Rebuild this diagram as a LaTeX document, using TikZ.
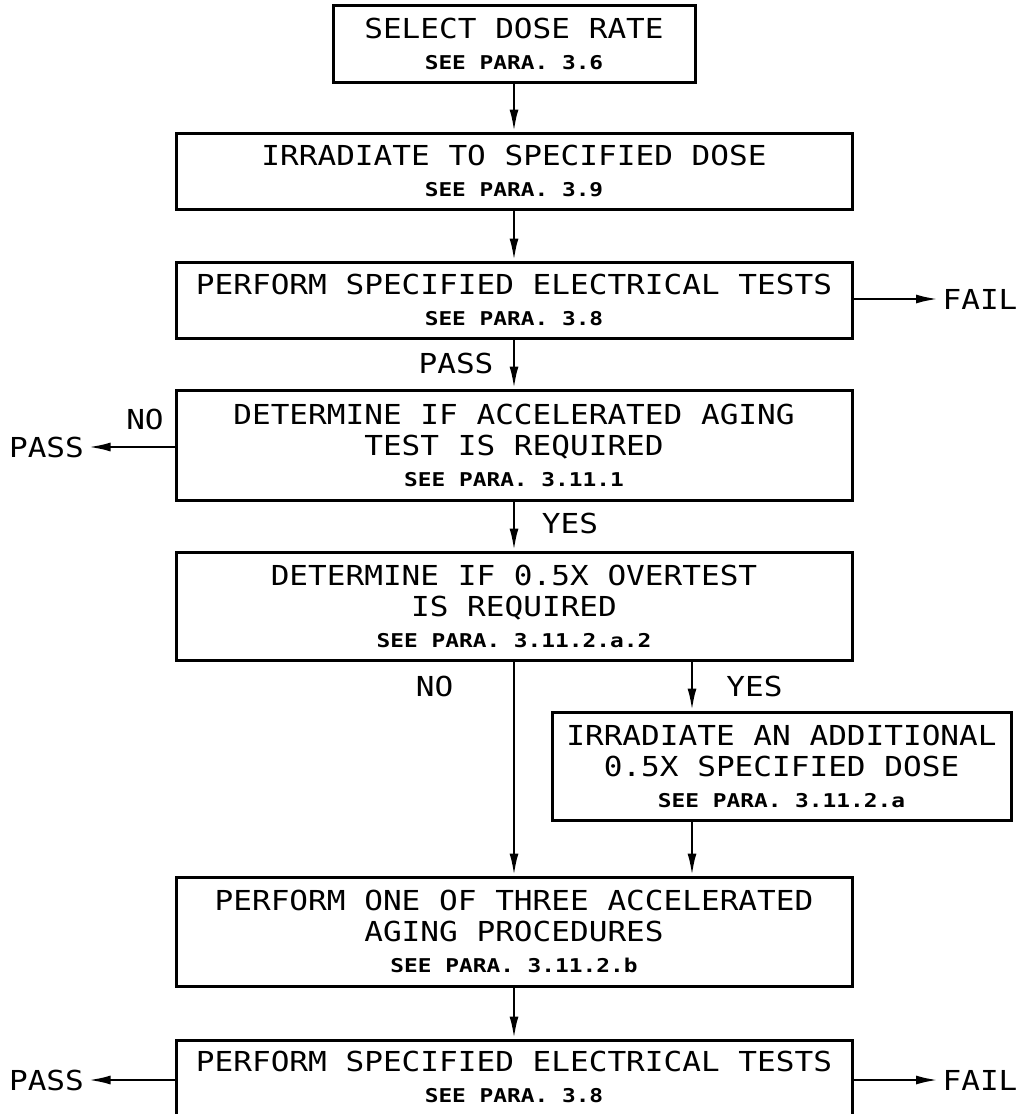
\documentclass[tikz,border=0pt]{standalone}
\usepackage{fontspec}
\usepackage{tikz}
\usetikzlibrary{arrows.meta}
\newfontfamily\cadfont{DejaVu Sans Mono}[FakeStretch=1.13]
\newfontfamily\cadsmall{DejaVu Sans Mono}[FakeStretch=1.2]
\newcommand{\seepara}[1]{{\cadsmall\bfseries\fontsize{19}{31}\selectfont SEE PARA. #1}}

\begin{document}
\begin{tikzpicture}[x=1pt, y=-1pt, line width=2.5pt,
	every node/.style={font=\cadfont\fontsize{27.5}{31}\selectfont},
	box/.style={draw, line width=3pt, align=center, inner sep=0pt, minimum width=676pt},
	arr/.style={-{Latex[length=22pt,width=9pt]}}]
	\clip (0,0) rectangle (1021,1114);
	\node[box, minimum width=362pt, minimum height=77pt] (n1) at (514,43.5)  {SELECT DOSE RATE\\\seepara{3.6}};
	\node[box, minimum height=76pt]  (n2) at (514,171)   {IRRADIATE TO SPECIFIED DOSE\\\seepara{3.9}};
	\node[box, minimum height=76pt]  (n3) at (514,300)   {PERFORM SPECIFIED ELECTRICAL TESTS\\\seepara{3.8}};
	\node[box, minimum height=110pt] (n4) at (514,445)   {DETERMINE IF ACCELERATED AGING\\TEST IS REQUIRED\\\seepara{3.11.1}};
	\node[box, minimum height=108pt] (n5) at (514,606)   {DETERMINE IF 0.5X OVERTEST\\IS REQUIRED\\\seepara{3.11.2.a.2}};
	\node[box, minimum width=459pt, minimum height=108pt] (n6) at (781.5,766) {IRRADIATE AN ADDITIONAL\\0.5X SPECIFIED DOSE\\\seepara{3.11.2.a}};
	\node[box, minimum height=109pt] (n7) at (514,931.5) {PERFORM ONE OF THREE ACCELERATED\\AGING PROCEDURES\\\seepara{3.11.2.b}};
	\node[box, minimum height=110pt] (n8) at (514,1095)  {PERFORM SPECIFIED ELECTRICAL TESTS\\\seepara{3.8}\\[-4pt]\strut};
	% branch labels
	\node (t1) at (456,363)   {PASS};
	\node (t2) at (980,299)   {FAIL};
	\node (t3) at (145,419)   {NO};
	\node (t4) at (46.5,447)  {PASS};
	\node (t5) at (570,523)   {YES};
	\node (t6) at (434.5,686) {NO};
	\node (t7) at (754.5,686) {YES};
	\node (t8) at (46.5,1080) {PASS};
	\node (t9) at (980,1080)  {FAIL};
	\coordinate (c1) at (692,0);
	\foreach \from/\to in {
		n1/n2, n2/n3,
		n3/n4, n4/n5,
		n5/n7, n7/n8}
	\draw[arr] (\from) -- (\to);
	\draw[arr] (n5.south -| c1) -- (n6.north -| c1);
	\draw[arr] (n6.south -| c1) -- (n7.north -| c1);
	\draw[arr] (n3.east |- t2) -- (t2.west);
	\draw[arr] (n4.west |- t4) -- (t4.east);
	\draw[arr] (n8.west |- t8) -- (t8.east);
	\draw[arr] (n8.east |- t9) -- (t9.west);
\end{tikzpicture}
\end{document}
